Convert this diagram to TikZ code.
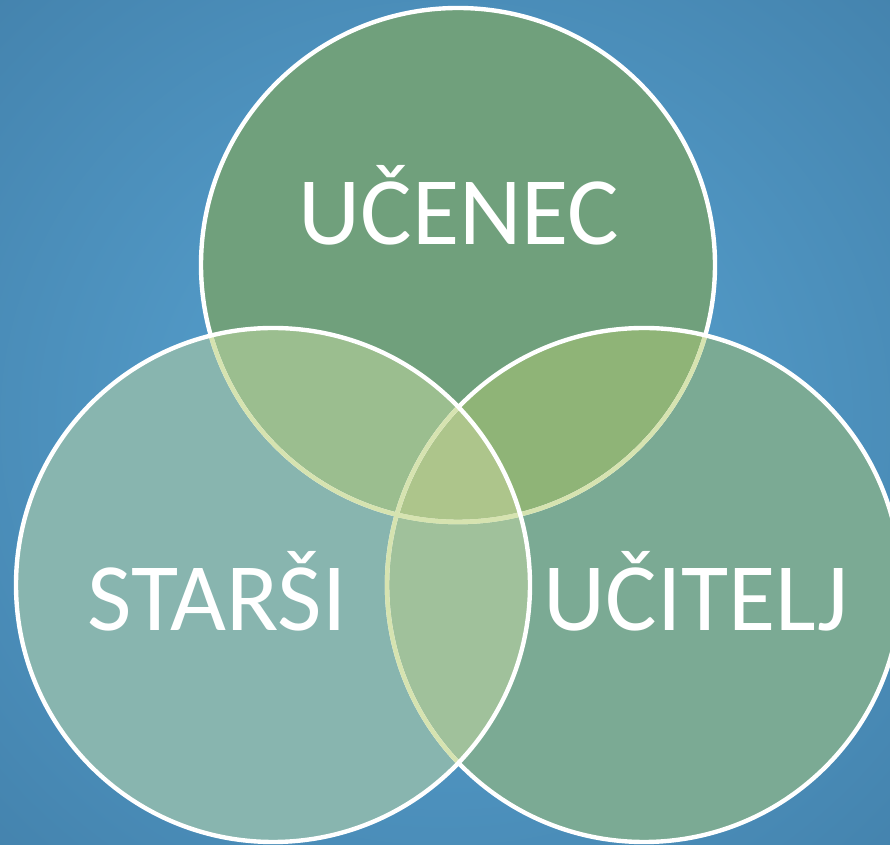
\documentclass[tikz,border=0pt]{standalone}
\usepackage{fontspec}
\setmainfont{Carlito}

\definecolor{bgin}{HTML}{5198C5}
\definecolor{bgout}{HTML}{376E96}
\definecolor{ctop}{HTML}{70A07C}
\definecolor{cleft}{HTML}{88B5AF}
\definecolor{cright}{HTML}{7BAA94}
\definecolor{ctl}{HTML}{9BBE8F}
\definecolor{ctr}{HTML}{8FB477}
\definecolor{clr}{HTML}{A0C19B}
\definecolor{call}{HTML}{ADC58B}
\definecolor{cseam}{HTML}{D6E3B0}

\pgfdeclareradialshading{backdrop}{\pgfpoint{0bp}{0bp}}{color(0bp)=(bgin); color(14bp)=(bgin); color(58bp)=(bgout); color(70bp)=(bgout)}

\tikzset{
  ring/.style={draw=white, line width=2.5pt},
  seam/.style={draw=cseam, line width=2.5pt},
  vennlabel/.style={text=white, anchor=base, inner sep=0pt, font=\fontsize{55}{62}\selectfont},
}

\begin{document}
\begin{tikzpicture}[x=0.02cm, y=0.02cm]
        \useasboundingbox (0,0) rectangle (890,845);
        \shade[shading=backdrop] (0,0) rectangle (890,845);

        \coordinate (top) at (458,580);
        \coordinate (left) at (273,260);
        \coordinate (right) at (644,260);
        \def\rad{257}

        % plain discs
        \fill[ctop] (top) circle[radius=\rad];
        \fill[cright] (right) circle[radius=\rad];
        \fill[cleft] (left) circle[radius=\rad];

        % overlaps
        \begin{scope}
            \clip (left) circle[radius=\rad];
            \fill[clr] (right) circle[radius=\rad];
        \end{scope}
        \begin{scope}
            \clip (top) circle[radius=\rad];
            \fill[ctl] (left) circle[radius=\rad];
            \fill[ctr] (right) circle[radius=\rad];
            \clip (left) circle[radius=\rad];
            \fill[call] (right) circle[radius=\rad];
        \end{scope}

        % outlines
        \draw[ring] (top) circle[radius=\rad];
        \begin{scope}
            \clip (right) circle[radius=\rad];
            \draw[seam] (top) circle[radius=\rad];
        \end{scope}
        \draw[ring] (right) circle[radius=\rad];
        \begin{scope}
            \clip (left) circle[radius=\rad];
            \draw[seam] (top) circle[radius=\rad];
            \draw[seam] (right) circle[radius=\rad];
        \end{scope}
        \draw[ring] (left) circle[radius=\rad];

        \node[vennlabel] (ucenec) at (459,600) {UČENEC};
        \node[vennlabel] (starsi) at (217,214) {STARŠI};
        \node[vennlabel] (ucitelj) at (696,214) {UČITELJ};
\end{tikzpicture}
\end{document}
